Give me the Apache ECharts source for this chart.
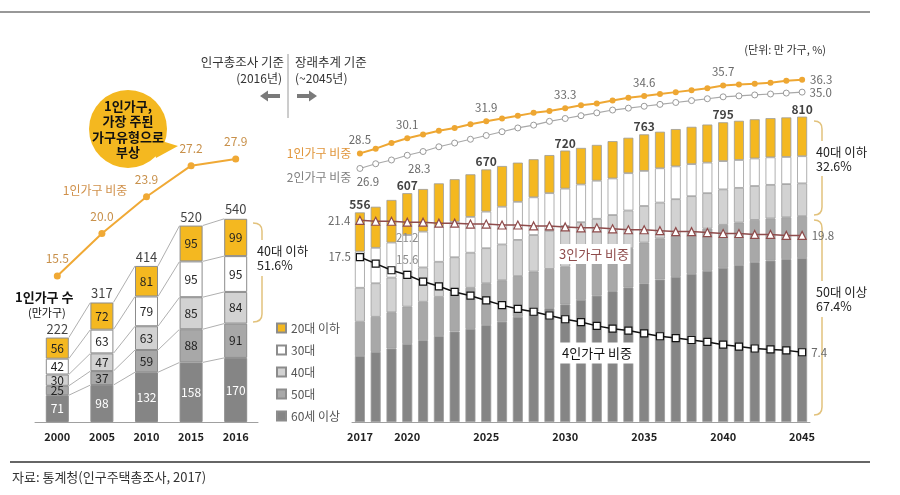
<!DOCTYPE html>
<html>
<head>
<meta charset="utf-8">
<script src="https://cdn.jsdelivr.net/npm/echarts@6/dist/echarts.min.js"></script>
<style>
  html, body { margin: 0; padding: 0; background: #fff; }
  #chart { width: 900px; height: 495px; }
</style>
</head>
<body>
<div id="chart"></div>
<script>
// 인구총조사 (2000~2016)
var leftYears = ['2000', '2005', '2010', '2015', '2016'];
var left20 = [56, 72, 81, 95, 99];
var left30 = [42, 63, 79, 95, 95];
var left40 = [30, 47, 63, 85, 84];
var left50 = [25, 37, 59, 88, 91];
var left60 = [71, 98, 132, 158, 170];
var leftTotals = [222, 317, 414, 520, 540];
var leftShare1 = [15.5, 20.0, 23.9, 27.2, 27.9];

// 장래추계 (2017~2045)
var rightYears = ['2017', '2018', '2019', '2020', '2021', '2022', '2023', '2024', '2025', '2026',
    '2027', '2028', '2029', '2030', '2031', '2032', '2033', '2034', '2035', '2036',
    '2037', '2038', '2039', '2040', '2041', '2042', '2043', '2044', '2045'];
var right60 = [175, 186, 195, 207, 217, 228, 240, 247, 257, 266, 279, 293, 302, 312, 324, 335, 347, 357, 368, 378, 385, 393, 401, 409, 416, 424, 428, 432, 435];
var right50 = [91, 93, 96, 99, 102, 104, 106, 109, 111, 110, 108, 106, 104, 100, 100, 101, 102, 104, 108, 109, 110, 111, 112, 114, 113, 112, 112, 111, 111];
var right40 = [90, 89, 92, 93, 91, 93, 91, 93, 93, 95, 96, 97, 101, 108, 106, 103, 100, 100, 97, 95, 96, 95, 94, 94, 92, 90, 89, 88, 87];
var right30 = [96, 94, 93, 97, 95, 95, 94, 95, 97, 100, 101, 100, 100, 99, 100, 101, 97, 99, 93, 91, 87, 85, 81, 75, 74, 73, 73, 72, 72];
var right20 = [104, 109, 113, 111, 113, 113, 113, 113, 112, 108, 104, 101, 101, 101, 97, 95, 99, 94, 97, 97, 99, 99, 101, 103, 104, 104, 104, 105, 105];
var totalYears = ['2017', '2020', '2025', '2030', '2035', '2040', '2045'];
var totalValues = [556, 607, 670, 720, 763, 795, 810];
var share1 = [28.5, 29.0, 29.6, 30.1, 30.5, 30.9, 31.2, 31.6, 31.9, 32.2, 32.5, 32.8, 33.0, 33.3, 33.6, 33.8, 34.1, 34.4, 34.6, 34.8, 35.0, 35.2, 35.4, 35.7, 35.8, 35.9, 36.0, 36.2, 36.3];
var share2 = [26.9, 27.4, 27.8, 28.3, 28.7, 29.2, 29.6, 30.0, 30.4, 30.8, 31.2, 31.5, 31.9, 32.2, 32.5, 32.8, 33.1, 33.3, 33.5, 33.7, 33.9, 34.1, 34.3, 34.5, 34.6, 34.7, 34.8, 34.9, 35.0];
var share3 = [21.4, 21.3, 21.3, 21.2, 21.2, 21.1, 21.1, 21.0, 21.0, 20.9, 20.9, 20.8, 20.8, 20.7, 20.6, 20.6, 20.5, 20.4, 20.4, 20.3, 20.2, 20.2, 20.1, 20.0, 20.0, 19.9, 19.9, 19.8, 19.8];
var share4 = [17.5, 16.8, 16.1, 15.6, 14.9, 14.4, 13.8, 13.4, 12.9, 12.4, 12.0, 11.7, 11.3, 10.9, 10.6, 10.2, 9.9, 9.7, 9.4, 9.1, 8.9, 8.7, 8.5, 8.2, 8.0, 7.8, 7.7, 7.6, 7.4];

var FONT = '"Noto Sans CJK KR", "Noto Sans", sans-serif';
var C20 = '#f4b820', C30 = '#ffffff', C40 = '#d2d2d2', C50 = '#a8a8a8', C60 = '#858585';
var LEFT_BAR = 23, RIGHT_BAR = 10;
var BRACE = {stroke: '#e2c27c', lineWidth: 1.5, fill: null};

// 특정 점에만 라벨 붙이기
function withLabels(values, spots) {
    return values.map(function (v, i) {
        if (spots[i]) {
            return {value: v, label: Object.assign({show: true}, spots[i])};
        }
        return v;
    });
}

function leftBar(name, data, color, labelColor) {
    return {
        name: name, type: 'bar', stack: 'L', xAxisIndex: 0, yAxisIndex: 0,
        barWidth: LEFT_BAR, data: data,
        itemStyle: {color: color, borderColor: '#8c8c8c', borderWidth: 1},
        label: {show: true, position: 'inside', fontSize: 12, color: labelColor, fontFamily: FONT}
    };
}

function rightBar(name, data, color) {
    return {
        name: name, type: 'bar', stack: 'R', xAxisIndex: 1, yAxisIndex: 2,
        barWidth: RIGHT_BAR, data: data,
        itemStyle: {color: color, borderColor: '#9c9c9c', borderWidth: 0.8}
    };
}

// 오른쪽으로 열린 괄호 (가운데 글자 자리는 비움)
function brace(x0, x1, top, gapTop, gapBottom, bottom) {
    return [
        {type: 'bezierCurve', shape: {x1: x0, y1: top, cpx1: x1, cpy1: top, x2: x1, y2: top + 8}, style: BRACE},
        {type: 'line', shape: {x1: x1, y1: top + 8, x2: x1, y2: gapTop}, style: BRACE},
        {type: 'line', shape: {x1: x1, y1: gapBottom, x2: x1, y2: bottom - 8}, style: BRACE},
        {type: 'bezierCurve', shape: {x1: x1, y1: bottom - 8, cpx1: x1, cpy1: bottom, x2: x0, y2: bottom}, style: BRACE}
    ];
}

function txt(x, y, text, opts) {
    return {type: 'text', x: x, y: y,
        style: Object.assign({text: text, verticalAlign: 'middle', fontSize: 12.5, fill: '#222', fontFamily: FONT}, opts || {})};
}

// 막대 위에 올라가는 흰 바탕 이름표
function tag(x, y, w, h, text, color) {
    return [
        {type: 'rect', zlevel: 1, shape: {x: x - w / 2, y: y - h / 2, width: w, height: h}, style: {fill: '#fff'}},
        {type: 'text', zlevel: 1, z: 1, x: x, y: y,
            style: {text: text, align: 'center', verticalAlign: 'middle', fontSize: 13, fill: color, fontFamily: FONT}}
    ];
}

var axisLabelStyle = {fontWeight: 'bold', fontSize: 11, color: '#222', margin: 9, fontFamily: FONT};
var pointLabel = {color: '#6a6a6a', fontSize: 11.5, fontFamily: FONT, formatter: function (p) { return p.value.toFixed(1); }};

var chart = echarts.init(document.getElementById('chart'));
chart.setOption({
    animation: false,
    backgroundColor: '#fff',
    textStyle: {fontFamily: FONT},
    grid: [
        {left: 35, right: 642, top: 45, bottom: 73},
        {left: 352, right: 90, top: 45, bottom: 73}
    ],
    xAxis: [
        {type: 'category', gridIndex: 0, data: leftYears,
            axisLine: {lineStyle: {color: '#a0a0a0'}}, axisTick: {show: false}, axisLabel: axisLabelStyle},
        {type: 'category', gridIndex: 1, data: rightYears,
            axisLine: {lineStyle: {color: '#a0a0a0'}}, axisTick: {show: false},
            axisLabel: Object.assign({}, axisLabelStyle, {
                interval: function (idx, val) { return totalYears.indexOf(val) >= 0; }
            })}
    ],
    yAxis: [
        {type: 'value', gridIndex: 0, min: 0, max: 1000, show: false},
        {type: 'value', gridIndex: 0, min: 0, max: 40, show: false},
        {type: 'value', gridIndex: 1, min: 0, max: 1000, show: false},
        {type: 'value', gridIndex: 1, min: 0, max: 40, show: false}
    ],
    legend: {
        data: ['20대 이하', '30대', '40대', '50대', '60세 이상'],
        orient: 'vertical', left: 271, top: 317,
        itemWidth: 9, itemHeight: 9, itemGap: 10, icon: 'rect',
        selectedMode: false,
        textStyle: {fontSize: 12, color: '#555', fontFamily: FONT}
    },
    series: [
        // 왼쪽 막대
        leftBar('60세 이상', left60, C60, '#fff'),
        leftBar('50대', left50, C50, '#222'),
        leftBar('40대', left40, C40, '#222'),
        leftBar('30대', left30, C30, '#222'),
        leftBar('20대 이하', left20, C20, '#222'),
        {
            type: 'scatter', xAxisIndex: 0, yAxisIndex: 0, symbolSize: 1,
            itemStyle: {color: 'transparent'},
            data: leftYears.map(function (y, i) { return [y, leftTotals[i]]; }),
            label: {show: true, position: 'top', distance: 2, fontSize: 13, color: '#111', fontFamily: FONT,
                formatter: function (p) { return p.value[1]; }}
        },
        {
            // 막대 사이 연결선
            type: 'custom', xAxisIndex: 0, yAxisIndex: 0,
            data: [[0, 0], [1, 0], [2, 0], [3, 0]],
            encode: {x: 0, y: 1}, silent: true,
            renderItem: function (params, api) {
                var i = params.dataIndex;
                var segs = [left60, left50, left40, left30, left20];
                var a = 0, b = 0, children = [];
                segs.forEach(function (s) {
                    a += s[i];
                    b += s[i + 1];
                    var p1 = api.coord([i, a]), p2 = api.coord([i + 1, b]);
                    children.push({
                        type: 'line',
                        shape: {x1: p1[0] + LEFT_BAR / 2, y1: p1[1], x2: p2[0] - LEFT_BAR / 2, y2: p2[1]},
                        style: {stroke: '#9a9a9a', lineWidth: 0.8}
                    });
                });
                return {type: 'group', children: children};
            }
        },
        {
            name: '1인가구 비중', type: 'line', xAxisIndex: 0, yAxisIndex: 1, data: leftShare1,
            symbol: 'circle', symbolSize: 7, z: 5,
            lineStyle: {color: '#f0a935', width: 2}, itemStyle: {color: '#f0a935'},
            label: Object.assign({}, pointLabel, {show: true, position: 'top', distance: 8, color: '#c8904a', fontSize: 12})
        },

        // 오른쪽 막대
        rightBar('60세 이상', right60, C60),
        rightBar('50대', right50, C50),
        rightBar('40대', right40, C40),
        rightBar('30대', right30, C30),
        rightBar('20대 이하', right20, C20),
        {
            type: 'scatter', xAxisIndex: 1, yAxisIndex: 2, symbolSize: 1,
            itemStyle: {color: 'transparent'},
            data: totalYears.map(function (y, i) { return [y, totalValues[i]]; }),
            label: {show: true, position: 'top', distance: 1, fontSize: 12, fontWeight: 'bold', color: '#111', fontFamily: FONT,
                formatter: function (p) { return p.value[1]; }}
        },
        {
            name: '1인가구 비중 ', type: 'line', xAxisIndex: 1, yAxisIndex: 3, z: 6,
            data: withLabels(share1, {0: {position: 'top'}, 3: {position: 'top'}, 8: {position: 'top'},
                13: {position: 'top'}, 18: {position: 'top'}, 23: {position: 'top'}, 28: {position: 'right'}}),
            symbol: 'circle', symbolSize: 6,
            lineStyle: {color: '#eea733', width: 2}, itemStyle: {color: '#eea733'},
            label: Object.assign({}, pointLabel, {distance: 5})
        },
        {
            name: '2인가구 비중', type: 'line', xAxisIndex: 1, yAxisIndex: 3, z: 6,
            data: withLabels(share2, {0: {position: 'bottom', offset: [8, 0]}, 3: {position: 'bottom', offset: [12, 0]},
                28: {position: 'right'}}),
            symbol: 'circle', symbolSize: 6,
            lineStyle: {color: '#a8a8a8', width: 1.2}, itemStyle: {color: '#fff', borderColor: '#9a9a9a', borderWidth: 1},
            label: Object.assign({}, pointLabel, {distance: 4})
        },
        {
            name: '3인가구 비중', type: 'line', xAxisIndex: 1, yAxisIndex: 3, z: 6,
            data: withLabels(share3, {0: {position: 'left'}, 3: {position: 'bottom', color: '#8a8a8a'},
                28: {position: 'right'}}),
            symbol: 'triangle', symbolSize: 8,
            lineStyle: {color: '#8e4b4b', width: 1.5}, itemStyle: {color: '#fff', borderColor: '#8e4b4b', borderWidth: 1.2},
            label: Object.assign({}, pointLabel, {distance: 5})
        },
        {
            name: '4인가구 비중', type: 'line', xAxisIndex: 1, yAxisIndex: 3, z: 6,
            data: withLabels(share4, {0: {position: 'left'}, 3: {position: 'top', color: '#8a8a8a'},
                28: {position: 'right'}}),
            symbol: 'rect', symbolSize: 7,
            lineStyle: {color: '#111', width: 1.5}, itemStyle: {color: '#fff', borderColor: '#111', borderWidth: 1.2},
            label: Object.assign({}, pointLabel, {distance: 5})
        }
    ],
    graphic: [].concat(
        [
            // 위/아래 구분선
            {type: 'line', shape: {x1: 0, y1: 12, x2: 870, y2: 12}, style: {stroke: '#333', lineWidth: 1.2}},
            {type: 'line', shape: {x1: 10, y1: 462, x2: 870, y2: 462}, style: {stroke: '#333', lineWidth: 1.5}},
            txt(12, 477, '자료: 통계청(인구주택총조사, 2017)', {fontSize: 13, fill: '#333'}),

            // 말풍선
            {type: 'polygon', shape: {points: [[152, 138], [178, 146], [156, 158]]}, style: {fill: '#f4b820'}},
            {type: 'circle', shape: {cx: 128, cy: 129, r: 39}, style: {fill: '#f4b820'}},
            txt(128, 129, '1인가구,\n가장 주된\n가구유형으로\n부상', {align: 'center', fontSize: 13, fontWeight: 'bold', lineHeight: 15.5, fill: '#111'}),
            txt(95, 190, '1인가구 비중', {align: 'center', fontSize: 12, fill: '#d0904a'}),
            txt(15, 297, '1인가구 수', {fontSize: 13, fontWeight: 'bold', fill: '#111'}),
            txt(28, 313, '(만가구)', {fontSize: 11, fill: '#111'}),

            // 기준 구분
            txt(284, 62, '인구총조사 기준', {align: 'right', fill: '#333'}),
            txt(282, 78, '(2016년)', {align: 'right', fontSize: 12, fill: '#333'}),
            txt(295, 62, '장래추계 기준', {fill: '#333'}),
            txt(295, 78, '(~2045년)', {fontSize: 12, fill: '#333'}),
            {type: 'line', shape: {x1: 288, y1: 54, x2: 288, y2: 118}, style: {stroke: '#9a9a9a', lineWidth: 1}},
            {type: 'polygon', shape: {points: [[280, 94], [268, 94], [268, 90.5], [260, 96], [268, 101.5], [268, 98], [280, 98]]}, style: {fill: '#7a7a7a'}},
            {type: 'polygon', shape: {points: [[297, 94], [309, 94], [309, 90.5], [317, 96], [309, 101.5], [309, 98], [297, 98]]}, style: {fill: '#7a7a7a'}},
            txt(826, 50, '(단위: 만 가구, %)', {align: 'right', fontSize: 11, fill: '#333'}),

            // 오른쪽 선 이름
            txt(319, 153, '1인가구 비중', {align: 'center', fontSize: 12, fill: '#e0953a'}),
            txt(319, 177, '2인가구 비중', {align: 'center', fontSize: 12, fill: '#808080'}),

            // 비율
            txt(257, 251, '40대 이하'),
            txt(257, 265, '51.6%'),
            txt(816, 152, '40대 이하'),
            txt(816, 166, '32.6%'),
            txt(816, 292, '50대 이상'),
            txt(816, 306, '67.4%')
        ],
        tag(594, 254, 73, 20, '3인가구 비중', '#8e4b4b'),
        tag(597, 353, 74, 21, '4인가구 비중', '#111'),
        brace(253, 262, 223, 240, 276, 322),
        brace(814, 822, 121, 141, 176, 215),
        brace(814, 822, 220, 281, 317, 415)
    )
});
</script>
</body>
</html>
